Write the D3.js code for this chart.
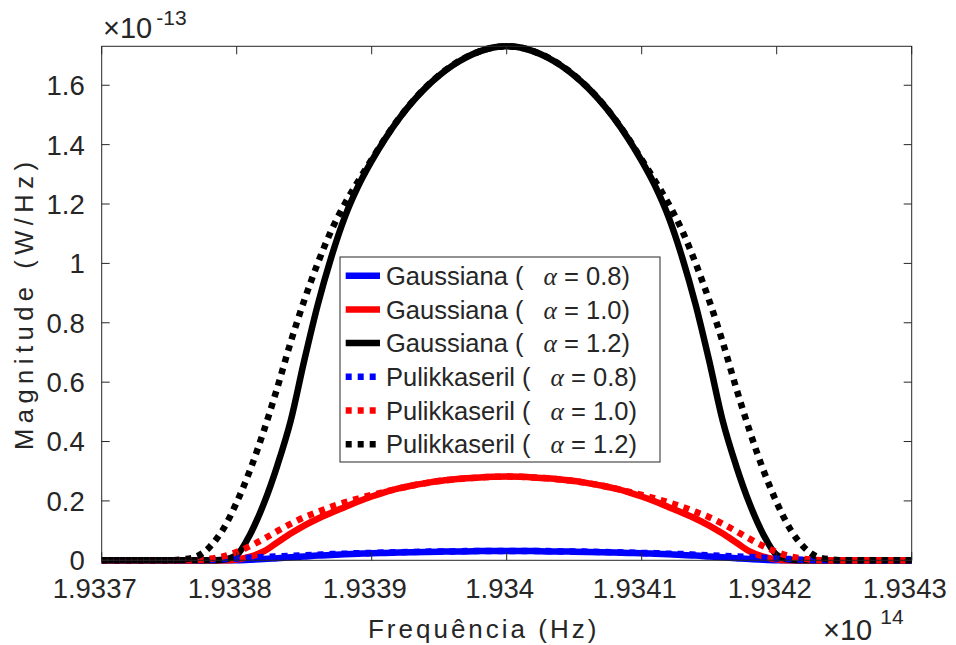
<!DOCTYPE html>
<html>
<head>
<meta charset="utf-8">
<script src="https://cdnjs.cloudflare.com/ajax/libs/d3/7.8.5/d3.min.js"></script>
<style>
  body { margin: 0; background: #fff; }
  svg { display: block; }
  text { font-family: "Liberation Sans", Arial, Helvetica, sans-serif; fill: #262626; }
</style>
</head>
<body>
<div id="chart"></div>
<script>

// Frequency samples (x 1e14 Hz)
const freq = [
  1.93370, 1.93371, 1.93372, 1.93373, 1.93374, 1.93375, 1.93376, 1.93377, 1.93378, 1.93379,
  1.93380, 1.93381, 1.93382, 1.93383, 1.93384, 1.93385, 1.93386, 1.93387, 1.93388, 1.93389,
  1.93390, 1.93391, 1.93392, 1.93393, 1.93394, 1.93395, 1.93396, 1.93397, 1.93398, 1.93399,
  1.93400, 1.93401, 1.93402, 1.93403, 1.93404, 1.93405, 1.93406, 1.93407, 1.93408, 1.93409,
  1.93410, 1.93411, 1.93412, 1.93413, 1.93414, 1.93415, 1.93416, 1.93417, 1.93418, 1.93419,
  1.93420, 1.93421, 1.93422, 1.93423, 1.93424, 1.93425, 1.93426, 1.93427, 1.93428, 1.93429,
  1.93430
];

// Magnitudes (x 1e-13 W/Hz)
const gauss08 = [
  0,0,0,0,0,0,0,0,0,0,
  0.0005,0.002,0.004,0.007,0.01,0.013,0.016,0.018,0.02,0.022,0.024,0.025,0.026,0.027,0.028,0.029,0.03,0.03,0.031,0.031,0.031,
  0.031,0.031,0.03,0.03,0.029,0.028,0.027,0.026,0.025,0.024,0.022,0.02,0.018,0.016,0.013,0.01,0.007,0.004,0.002,0.0005,
  0,0,0,0,0,0,0,0,0,0
];
const gauss10 = [
  0,0,0,0,0,0,0,0,0,0,
  0.003,0.012,0.03,0.06,0.09,0.117,0.14,0.16,0.179,0.198,0.215,0.23,0.242,0.252,0.26,0.267,0.272,0.276,0.279,0.281,0.282,
  0.281,0.279,0.276,0.272,0.267,0.26,0.252,0.242,0.23,0.215,0.198,0.179,0.16,0.14,0.117,0.09,0.06,0.03,0.012,0.003,
  0,0,0,0,0,0,0,0,0,0
];
const gauss12 = [
  0,0,0,0,0,0,0,0,0,
  0.002,0.018,0.088,0.19,0.318,0.47,0.672,0.86,1.02,1.155,1.26,1.345,1.42,1.486,1.543,1.592,1.633,1.667,1.694,1.714,1.727,1.731,
  1.727,1.714,1.694,1.667,1.633,1.592,1.543,1.486,1.42,1.345,1.26,1.155,1.02,0.86,0.672,0.47,0.318,0.19,0.088,0.018,0.002,
  0,0,0,0,0,0,0,0,0
];
const puli08 = [
  0,0,0,0,0,0,0,
  0.001,0.002,0.004,0.006,0.009,0.011,0.013,0.015,0.017,0.019,0.021,0.022,0.024,0.025,0.026,0.027,0.028,0.029,0.03,0.03,0.031,0.031,0.031,0.031,
  0.031,0.031,0.031,0.03,0.03,0.029,0.028,0.027,0.026,0.025,0.024,0.022,0.021,0.019,0.017,0.015,0.013,0.011,0.009,0.006,0.004,0.002,0.001,
  0,0,0,0,0,0,0
];
const puli10 = [
  0,0,0,0,0,0,0,
  0.001,0.005,0.013,0.028,0.048,0.072,0.098,0.123,0.145,0.163,0.18,0.195,0.208,0.22,0.231,0.242,0.252,0.26,0.267,0.272,0.276,0.279,0.281,0.282,
  0.281,0.279,0.276,0.272,0.267,0.26,0.252,0.242,0.231,0.22,0.208,0.195,0.18,0.163,0.145,0.123,0.098,0.072,0.048,0.028,0.013,0.005,0.001,
  0,0,0,0,0,0,0
];
const puli12 = [
  0,0,0,0,0,0,
  0.003,0.012,0.045,0.105,0.195,0.305,0.435,0.58,0.735,0.875,1.0,1.11,1.2,1.277,1.35,1.422,1.487,1.544,1.593,1.634,1.668,1.695,1.714,1.727,1.731,
  1.727,1.714,1.695,1.668,1.634,1.593,1.544,1.487,1.422,1.35,1.277,1.2,1.11,1.0,0.875,0.735,0.58,0.435,0.305,0.195,0.105,0.045,0.012,0.003,
  0,0,0,0,0,0
];

const seriesNames  = ["Gaussiana (", "Gaussiana (", "Gaussiana (", "Pulikkaseril (", "Pulikkaseril (", "Pulikkaseril ("];
const seriesAlpha  = ["0.8", "1.0", "1.2", "0.8", "1.0", "1.2"];
const seriesValues = [gauss08, gauss10, gauss12, puli08, puli10, puli12];
const seriesColors = ["#0000ff", "#ff0000", "#000000", "#0000ff", "#ff0000", "#000000"];
const seriesDotted = [false, false, false, true, true, true];

const xTicks = [1.9337, 1.9338, 1.9339, 1.9340, 1.9341, 1.9342, 1.9343];
const xTickLabels = ["1.9337", "1.9338", "1.9339", "1.934", "1.9341", "1.9342", "1.9343"];
const yTicks = [0, 0.2, 0.4, 0.6, 0.8, 1.0, 1.2, 1.4, 1.6];
const yTickLabels = ["0", "0.2", "0.4", "0.6", "0.8", "1", "1.2", "1.4", "1.6"];

const width = 956, height = 645;
const margin = {top: 46.3, right: 44.3, bottom: 84.7, left: 101.7};
const pw = width - margin.left - margin.right;
const ph = height - margin.top - margin.bottom;
const axisColor = "#262626";

const svg = d3.select("#chart").append("svg")
    .attr("width", width)
    .attr("height", height);

const g = svg.append("g")
    .attr("transform", "translate(" + margin.left + "," + margin.top + ")");

const x = d3.scaleLinear().domain([1.9337, 1.9343]).range([0, pw]);
const y = d3.scaleLinear().domain([0, 1.7312]).range([ph, 0]);

// Curves
const line = d3.line()
    .x((d, i) => x(freq[i]))
    .y(d => y(d))
    .curve(d3.curveMonotoneX);

seriesValues.forEach((vals, s) => {
    g.append("path")
        .attr("d", line(vals))
        .attr("fill", "none")
        .attr("stroke", seriesColors[s])
        .attr("stroke-width", 6.5)
        .attr("stroke-linejoin", "round")
        .attr("stroke-dasharray", seriesDotted[s] ? "6,6" : null);
});

// Axes (box with inward ticks on all sides)
const tickLen = 8;
const axes = g.append("g");
axes.append("rect")
    .attr("width", pw).attr("height", ph)
    .attr("fill", "none").attr("stroke", axisColor).attr("stroke-width", 1);

xTicks.forEach((t, i) => {
    axes.append("line")
        .attr("x1", x(t)).attr("x2", x(t))
        .attr("y1", ph).attr("y2", ph - tickLen)
        .attr("stroke", axisColor);
    axes.append("line")
        .attr("x1", x(t)).attr("x2", x(t))
        .attr("y1", 0).attr("y2", tickLen)
        .attr("stroke", axisColor);
    axes.append("text")
        .attr("x", x(t) - 7).attr("y", ph + 38)
        .attr("text-anchor", "middle")
        .attr("font-size", 27.5)
        .text(xTickLabels[i]);
});

yTicks.forEach((t, i) => {
    axes.append("line")
        .attr("x1", 0).attr("x2", tickLen)
        .attr("y1", y(t)).attr("y2", y(t))
        .attr("stroke", axisColor);
    axes.append("line")
        .attr("x1", pw).attr("x2", pw - tickLen)
        .attr("y1", y(t)).attr("y2", y(t))
        .attr("stroke", axisColor);
    axes.append("text")
        .attr("x", -17).attr("y", y(t))
        .attr("dy", "0.36em")
        .attr("text-anchor", "end")
        .attr("font-size", 27.5)
        .text(yTickLabels[i]);
});

// Exponent labels
const expTop = svg.append("text")
    .attr("x", 103).attr("y", 38)
    .attr("font-size", 29);
expTop.append("tspan").text("\u00d710");
expTop.append("tspan").attr("dx", 4).attr("dy", -13).attr("font-size", 21).text("-13");

const expBot = svg.append("text")
    .attr("x", 823).attr("y", 640)
    .attr("font-size", 29);
expBot.append("tspan").text("\u00d710");
expBot.append("tspan").attr("dx", 8).attr("dy", -16).attr("font-size", 21).text("14");

// Axis labels
svg.append("text")
    .attr("x", margin.left + pw / 2 - 23).attr("y", 638)
    .attr("text-anchor", "middle")
    .attr("font-size", 26)
    .attr("letter-spacing", 3)
    .text("Frequência (Hz)");

svg.append("text")
    .attr("transform", "translate(33," + (margin.top + ph / 2) + ") rotate(-90)")
    .attr("text-anchor", "middle")
    .attr("font-size", 25.5)
    .attr("letter-spacing", 5.5)
    .text("Magnitude (W/Hz)");

// Legend
const legend = svg.append("g").attr("transform", "translate(340,257)");
legend.append("rect")
    .attr("width", 320).attr("height", 205)
    .attr("fill", "#fff").attr("stroke", axisColor).attr("stroke-width", 1);

seriesNames.forEach((name, s) => {
    const ly = 18.7 + s * 33.7;
    legend.append("line")
        .attr("x1", 5.7).attr("x2", 40)
        .attr("y1", ly).attr("y2", ly)
        .attr("stroke", seriesColors[s])
        .attr("stroke-width", 6.5)
        .attr("stroke-dasharray", seriesDotted[s] ? "6,6" : null);
    const t = legend.append("text")
        .attr("x", 46).attr("y", ly)
        .attr("dy", "0.36em")
        .attr("font-size", 25.5)
        .attr("fill", "#000");
    t.append("tspan").text(name);
    t.append("tspan")
        .attr("dx", 20)
        .attr("font-family", "'Liberation Serif', 'DejaVu Serif', serif")
        .attr("font-style", "italic")
        .text("\u03b1");
    t.append("tspan").text(" = " + seriesAlpha[s] + ")");
});

</script>
</body>
</html>
